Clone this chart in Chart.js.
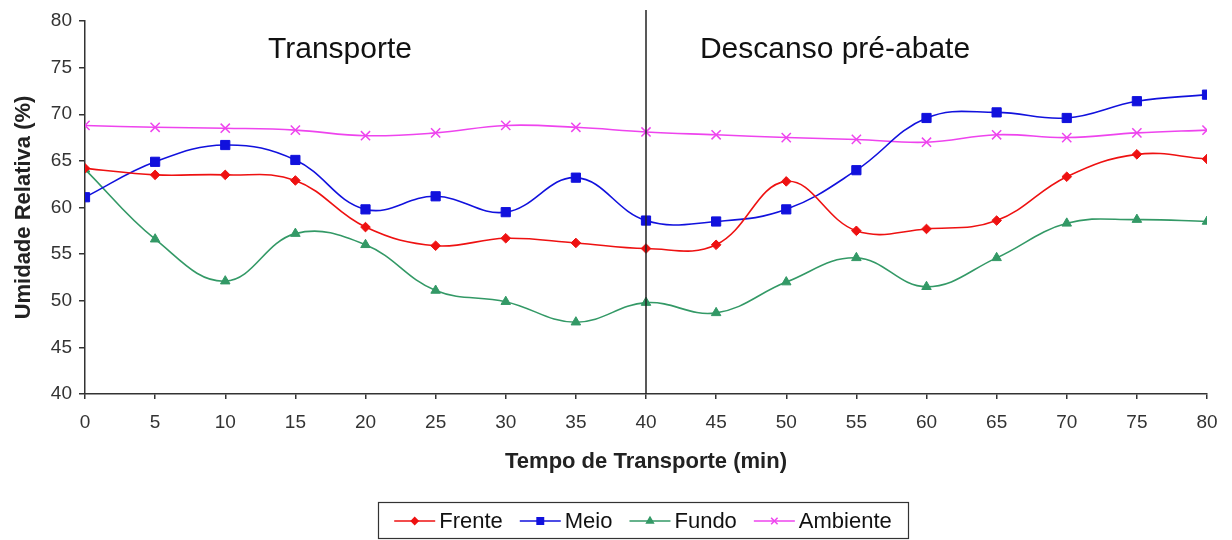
<!DOCTYPE html>
<html>
<head>
<meta charset="utf-8">
<script src="https://cdn.jsdelivr.net/npm/chart.js@4/dist/chart.umd.min.js"></script>
<style>
  html, body { margin: 0; padding: 0; background: #fff; }
  #wrap { width: 1232px; height: 540px; position: relative; }
</style>
</head>
<body>
<div id="wrap"><canvas id="grafico"></canvas></div>
<script>
// Dados
const tempos = [0, 5, 10, 15, 20, 25, 30, 35, 40, 45, 50, 55, 60, 65, 70, 75, 80];
const frente = [64.2, 63.5, 63.5, 62.9, 57.9, 55.9, 56.7, 56.2, 55.6, 56.0, 62.8, 57.5, 57.7, 58.6, 63.3, 65.7, 65.2];
const meio = [61.1, 64.9, 66.7, 65.1, 59.8, 61.2, 59.5, 63.2, 58.6, 58.5, 59.8, 64.0, 69.6, 70.2, 69.6, 71.4, 72.1];
const fundo = [64.1, 56.6, 52.1, 57.2, 56.0, 51.1, 49.9, 47.7, 49.8, 48.7, 52.0, 54.6, 51.5, 54.6, 58.3, 58.7, 58.5];
const ambiente = [68.8, 68.6, 68.5, 68.3, 67.7, 68.0, 68.8, 68.6, 68.1, 67.8, 67.5, 67.3, 67.0, 67.8, 67.5, 68.0, 68.3];
const nomesSeries = ['Frente', 'Meio', 'Fundo', 'Ambiente'];
const divisao = 40;
const fases = ['Transporte', 'Descanso pré-abate'];

const FONTE = '"Liberation Sans", Arial, sans-serif';

function pontos(valores) {
    return tempos.map((t, i) => ({ x: t, y: valores[i] }));
}

const estilos = [
    { cor: '#ee1111', ponto: 'rectRot', raio: 4.8 },
    { cor: '#1111dd', ponto: 'rect', raio: 6.5 },
    { cor: '#339966', ponto: 'triangle', raio: 5.5 },
    { cor: '#ee44ee', ponto: 'crossRot', raio: 6.5 }
];

const series = [frente, meio, fundo, ambiente];

// Plugin para a linha vertical, textos das fases e legenda
const extras = {
    id: 'extras',
    afterDatasetsDraw(chart) {
        const ctx = chart.ctx;
        const x = chart.scales.x;
        const area = chart.chartArea;
        const xd = x.getPixelForValue(divisao);

        ctx.save();
        ctx.strokeStyle = '#222';
        ctx.lineWidth = 1.5;
        ctx.beginPath();
        ctx.moveTo(xd, 10);
        ctx.lineTo(xd, area.bottom);
        ctx.stroke();

        ctx.fillStyle = '#111';
        ctx.font = '30px ' + FONTE;
        ctx.textAlign = 'center';
        ctx.textBaseline = 'alphabetic';
        ctx.fillText(fases[0], 340, 58);
        ctx.fillText(fases[1], 835, 58);

        // Legenda
        ctx.font = '22px ' + FONTE;
        const larguraLinha = 41;
        const gap = 4;
        const espaco = 17;
        let total = 0;
        nomesSeries.forEach((n, i) => {
            total += larguraLinha + gap + ctx.measureText(n).width;
            if (i < nomesSeries.length - 1) total += espaco;
        });
        const cx = 643;
        const cy = 521;
        ctx.strokeStyle = '#333';
        ctx.lineWidth = 1.2;
        ctx.strokeRect(378.5, 502.5, 530, 36);

        let px = cx - total / 2;
        nomesSeries.forEach((n, i) => {
            const e = estilos[i];
            ctx.strokeStyle = e.cor;
            ctx.fillStyle = e.cor;
            ctx.lineWidth = 1.5;
            ctx.beginPath();
            ctx.moveTo(px, cy);
            ctx.lineTo(px + larguraLinha, cy);
            ctx.stroke();
            Chart.helpers.drawPoint(ctx, {
                pointStyle: e.ponto,
                radius: e.raio * 0.7,
                rotation: 0,
                borderWidth: 1.2
            }, px + larguraLinha / 2, cy);
            px += larguraLinha + gap;
            ctx.fillStyle = '#111';
            ctx.textAlign = 'left';
            ctx.textBaseline = 'middle';
            ctx.fillText(n, px, cy + 1);
            px += ctx.measureText(n).width + espaco;
        });
        ctx.restore();
    }
};

const ctx = document.getElementById('grafico').getContext('2d');
new Chart(ctx, {
    type: 'line',
    data: {
        datasets: series.map((valores, i) => ({
            label: nomesSeries[i],
            data: pontos(valores),
            borderColor: estilos[i].cor,
            backgroundColor: estilos[i].cor,
            pointBackgroundColor: estilos[i].cor,
            pointBorderColor: estilos[i].cor,
            pointStyle: estilos[i].ponto,
            pointRadius: estilos[i].raio,
            pointBorderWidth: i === 3 ? 1.5 : 1,
            borderWidth: 1.6,
            tension: 0.4,
            fill: false
        }))
    },
    options: {
        responsive: true,
        maintainAspectRatio: false,
        animation: false,
        layout: { padding: { left: 0, right: 25, top: 21, bottom: 0 } },
        plugins: {
            legend: { display: false },
            tooltip: { enabled: false }
        },
        scales: {
            x: {
                type: 'linear',
                min: 0,
                max: 80,
                afterFit(scale) { scale.height = 146; },
                ticks: {
                    stepSize: 5,
                    color: '#333',
                    padding: 12,
                    font: { family: FONTE, size: 19 }
                },
                grid: { drawOnChartArea: false, tickLength: 5, color: '#333', lineWidth: 1.5 },
                border: { color: '#333', width: 1.5 },
                title: {
                    display: true,
                    text: 'Tempo de Transporte (min)',
                    color: '#222',
                    padding: { top: 0, bottom: 65 },
                    font: { family: FONTE, size: 22, weight: 'bold' }
                }
            },
            y: {
                min: 40,
                max: 80,
                afterFit(scale) { scale.width = 85; },
                ticks: {
                    stepSize: 5,
                    color: '#333',
                    padding: 7,
                    font: { family: FONTE, size: 19 }
                },
                grid: { drawOnChartArea: false, tickLength: 6, color: '#333', lineWidth: 1.5 },
                border: { color: '#333', width: 1.5 },
                title: {
                    display: true,
                    text: 'Umidade Relativa (%)',
                    color: '#222',
                    padding: { top: 11, bottom: 0 },
                    font: { family: FONTE, size: 22, weight: 'bold' }
                }
            }
        }
    },
    plugins: [extras]
});
</script>
</body>
</html>
